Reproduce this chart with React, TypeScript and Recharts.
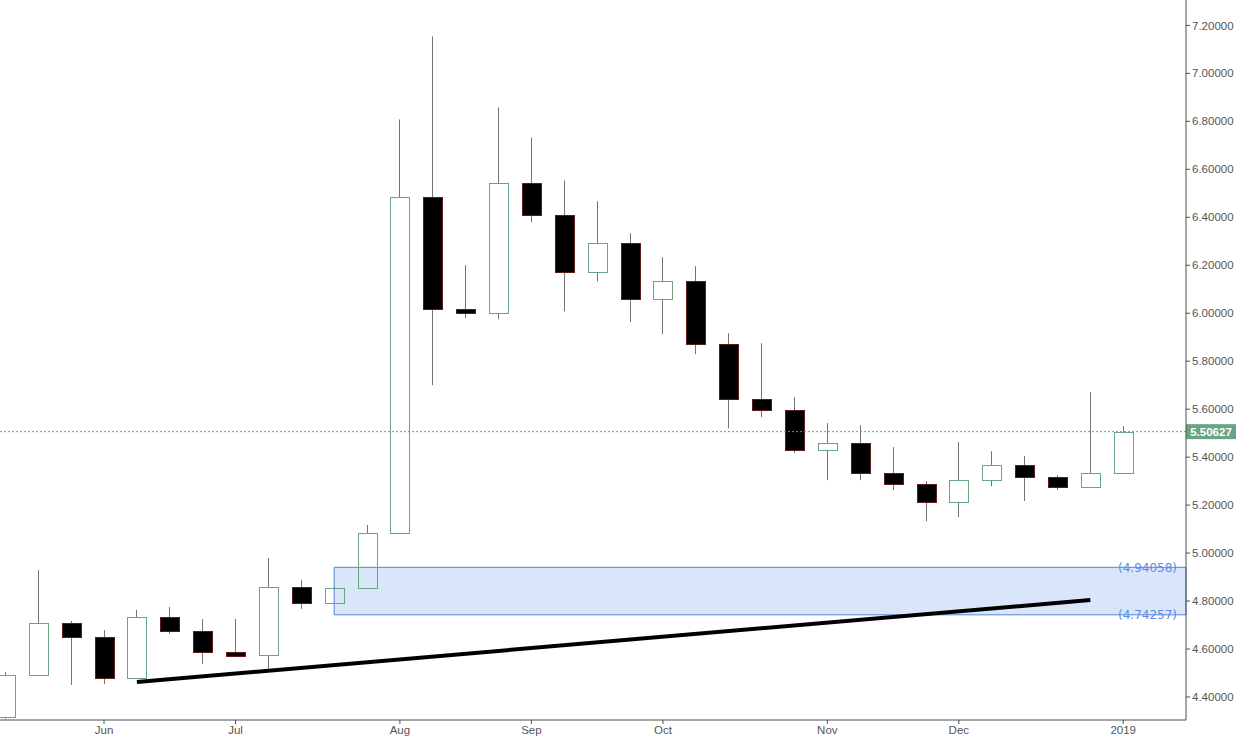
import React from "react";
import {
  Bar,
  ComposedChart,
  ReferenceArea,
  ReferenceLine,
  XAxis,
  YAxis,
} from "recharts";

// weekly candles, May 2018 -> Jan 2019
const open = [
  4.317, 4.492, 4.708, 4.65, 4.479, 4.733, 4.675, 4.588, 4.575, 4.858, 4.792,
  4.854, 5.083, 6.483, 6.017, 6.0, 6.542, 6.408, 6.171, 6.292, 6.058, 6.133,
  5.871, 5.642, 5.596, 5.429, 5.458, 5.333, 5.288, 5.213, 5.304, 5.367, 5.317,
  5.275, 5.333,
];
const high = [
  4.504, 4.929, 4.717, 4.679, 4.763, 4.775, 4.725, 4.725, 4.979, 4.888, 4.858,
  5.117, 6.808, 7.154, 6.2, 6.858, 6.733, 6.554, 6.467, 6.333, 6.233, 6.196,
  5.917, 5.875, 5.65, 5.542, 5.533, 5.442, 5.3, 5.463, 5.425, 5.404, 5.325,
  5.671, 5.529,
];
const low = [
  4.309, 4.492, 4.45, 4.454, 4.479, 4.663, 4.538, 4.571, 4.513, 4.767, 4.792,
  4.854, 5.083, 5.7, 5.979, 5.975, 6.379, 6.008, 6.133, 5.963, 5.913, 5.829,
  5.521, 5.567, 5.417, 5.304, 5.304, 5.263, 5.133, 5.15, 5.279, 5.217, 5.263,
  5.275, 5.329,
];
const close = [
  4.492, 4.708, 4.65, 4.479, 4.733, 4.675, 4.588, 4.571, 4.858, 4.792, 4.854,
  5.083, 6.483, 6.017, 6.0, 6.542, 6.408, 6.171, 6.292, 6.058, 6.133, 5.871,
  5.642, 5.596, 5.429, 5.458, 5.333, 5.288, 5.213, 5.304, 5.367, 5.317, 5.275,
  5.333, 5.50627,
];

const monthTicks = [3, 7, 12, 16, 20, 25, 29, 34];
const monthLabels = ["Jun", "Jul", "Aug", "Sep", "Oct", "Nov", "Dec", "2019"];
const priceTicks = [4.4, 4.6, 4.8, 5.0, 5.2, 5.4, 5.6, 5.8, 6.0, 6.2, 6.4, 6.6, 6.8, 7.0, 7.2];

const lastPrice = 5.50627;
const zoneTop = 4.94058;
const zoneBottom = 4.74257;
const zoneStart = 10;
const trendStart = { x: 4, y: 4.4625 };
const trendEnd = { x: 33, y: 4.804 };

const X_MIN = -0.164;
const X_MAX = 35.91;

const UP = "#6aa583";
const DOWN_EDGE = "#5c1c1c";
const WICK = "#737373";
const AXIS = "#4d4d4d";
const ZONE_TEXT = "#5b8ee6";

const data = open.map((o, i) => ({
  i,
  open: o,
  high: high[i],
  low: low[i],
  close: close[i],
}));

function Candle(props: any) {
  const { x, y, width, height, payload } = props;
  if (!payload || height == null) return null;
  const { open: o, close: c, high: h, low: l } = payload;
  const ratio = height / (h - l);
  const yOf = (v: number) => y + (h - v) * ratio;
  const cx = Math.round(x + width / 2) + 0.5;
  const top = Math.round(yOf(Math.max(o, c))) + 0.5;
  const bottom = Math.round(yOf(Math.min(o, c))) + 0.5;
  const up = c >= o;
  const left = Math.round(cx - width / 2) + 0.5;
  return (
    <g>
      <line x1={cx} x2={cx} y1={yOf(h)} y2={top} stroke={WICK} strokeWidth={1} />
      <line x1={cx} x2={cx} y1={bottom} y2={yOf(l)} stroke={WICK} strokeWidth={1} />
      <rect
        x={left}
        y={top}
        width={width - 1}
        height={Math.max(bottom - top, 1)}
        fill={up ? "none" : "#000"}
        stroke={up ? UP : DOWN_EDGE}
        strokeWidth={1}
      />
    </g>
  );
}

function PriceTag(props: any) {
  const { viewBox } = props;
  if (!viewBox) return null;
  const x = viewBox.x + viewBox.width;
  const y = viewBox.y;
  return (
    <g>
      <rect x={x} y={y - 7.5} width={50} height={15} fill={UP} />
      <text
        x={x + 25}
        y={y + 4}
        textAnchor="middle"
        fill="#fff"
        fontSize={11.5}
        fontWeight="bold"
        fontFamily="Liberation Sans, Arial, sans-serif"
      >
        {lastPrice.toFixed(5)}
      </text>
    </g>
  );
}

function ZoneLabel(props: any) {
  const { viewBox, value } = props;
  if (!viewBox) return null;
  return (
    <text
      x={viewBox.x + viewBox.width - 9}
      y={viewBox.y + 4.5}
      textAnchor="end"
      fill={ZONE_TEXT}
      fontSize={12}
      fontFamily="DejaVu Sans, Verdana, sans-serif"
    >
      ({value.toFixed(5)})
    </text>
  );
}

export default function App() {
  const tickStyle = {
    fill: "#555",
    fontSize: 11.5,
    fontFamily: "Liberation Sans, Arial, sans-serif",
  };
  return (
    <div style={{ position: "absolute", left: 0, top: 0, background: "#fff" }}>
      <ComposedChart
        width={1236}
        height={738}
        data={data}
        margin={{ top: 0, right: 0, left: 0, bottom: 0 }}
      >
        <XAxis
          dataKey="i"
          type="number"
          domain={[X_MIN, X_MAX]}
          allowDataOverflow
          ticks={monthTicks}
          interval={0}
          tickFormatter={(v) => monthLabels[monthTicks.indexOf(v)] ?? ""}
          height={18}
          tickSize={4}
          tickMargin={2}
          tick={tickStyle}
          stroke={AXIS}
        />
        <YAxis
          orientation="right"
          type="number"
          domain={[4.304, 7.306]}
          allowDataOverflow
          ticks={priceTicks}
          interval={0}
          tickFormatter={(v) => Number(v).toFixed(5)}
          width={50}
          tickSize={4}
          tickMargin={2}
          tick={tickStyle}
          stroke={AXIS}
        />
        <ReferenceArea
          x1={zoneStart}
          x2={X_MAX}
          y1={zoneBottom}
          y2={zoneTop}
          fill="#d9e5f8"
          fillOpacity={1}
          stroke="#5585d6"
          strokeWidth={1}
        />
        <Bar
          dataKey={(d: any) => [d.low, d.high]}
          barSize={20}
          shape={<Candle />}
          isAnimationActive={false}
        />
        <ReferenceLine
          y={lastPrice}
          stroke="#6b9a80"
          strokeDasharray="2 2"
          label={<PriceTag />}
        />
        <ReferenceLine
          y={zoneTop}
          stroke="none"
          label={<ZoneLabel value={zoneTop} />}
        />
        <ReferenceLine
          y={zoneBottom}
          stroke="none"
          label={<ZoneLabel value={zoneBottom} />}
        />
        <ReferenceLine
          segment={[trendStart, trendEnd]}
          stroke="#000"
          strokeWidth={4}
        />
      </ComposedChart>
    </div>
  );
}
